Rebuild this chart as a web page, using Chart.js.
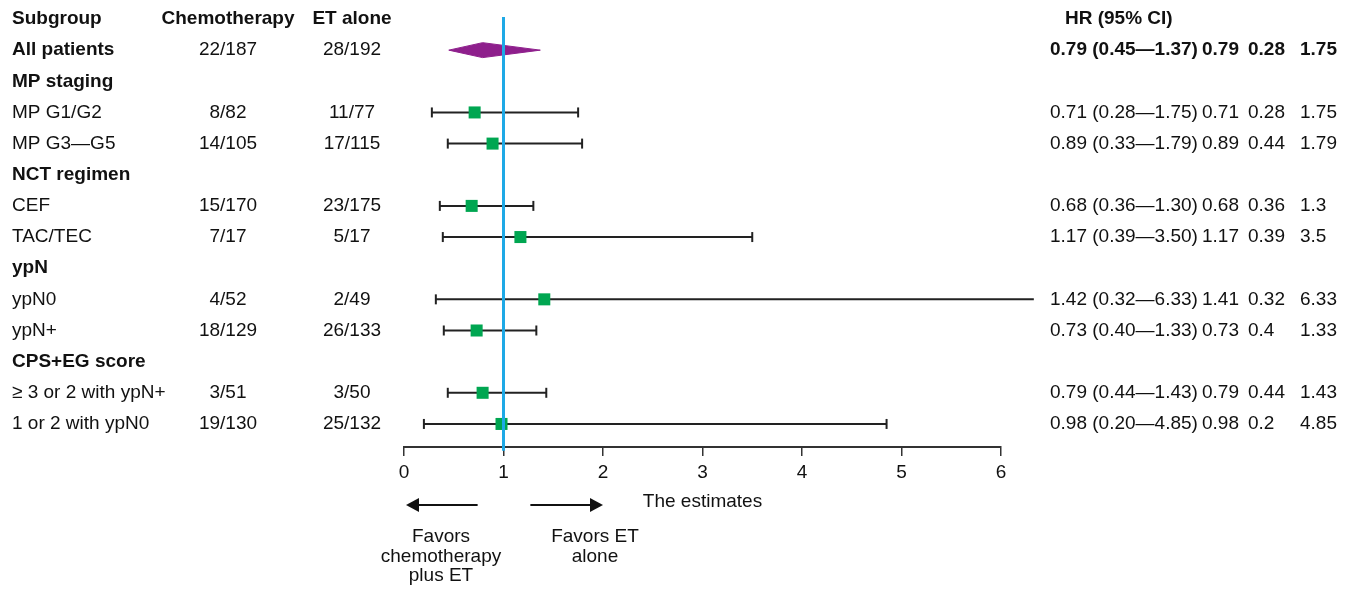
<!DOCTYPE html>
<html>
<head>
<meta charset="utf-8">
<script src="https://cdn.jsdelivr.net/npm/chart.js@4.4.1/dist/chart.umd.min.js"></script>
<style>
  html, body { margin: 0; padding: 0; background: #fff; }
  #wrap { width: 1353px; height: 590px; position: relative; }
</style>
</head>
<body>
<div id="wrap"><canvas id="forest"></canvas></div>
<script>
// Table + plot data
const subgroups = ['All patients', 'MP staging', 'MP G1/G2', 'MP G3\u2014G5', 'NCT regimen', 'CEF', 'TAC/TEC',
    'ypN', 'ypN0', 'ypN+', 'CPS+EG score', '\u2265 3 or 2 with ypN+', '1 or 2 with ypN0'];
const chemoEvents = ['22/187', '', '8/82', '14/105', '', '15/170', '7/17', '', '4/52', '18/129', '', '3/51', '19/130'];
const etEvents = ['28/192', '', '11/77', '17/115', '', '23/175', '5/17', '', '2/49', '26/133', '', '3/50', '25/132'];
const hrText = ['0.79 (0.45\u20141.37)', '', '0.71 (0.28\u20141.75)', '0.89 (0.33\u20141.79)', '', '0.68 (0.36\u20141.30)',
    '1.17 (0.39\u20143.50)', '', '1.42 (0.32\u20146.33)', '0.73 (0.40\u20141.33)', '', '0.79 (0.44\u20141.43)', '0.98 (0.20\u20144.85)'];
const estimate = [0.79, null, 0.71, 0.89, null, 0.68, 1.17, null, 1.41, 0.73, null, 0.79, 0.98];
const lower = [0.28, null, 0.28, 0.44, null, 0.36, 0.39, null, 0.32, 0.4, null, 0.44, 0.2];
const upper = [1.75, null, 1.75, 1.79, null, 1.3, 3.5, null, 6.33, 1.33, null, 1.43, 4.85];
// overall effect (diamond)
const pooled = [0.45, 0.79, 1.37];
const xTicks = [0, 1, 2, 3, 4, 5, 6];
const refValue = 1;

const FONT = '"Liberation Sans", Arial, Helvetica, sans-serif';
const SIZE = 19;
const INK = '#111';
const Y_MIN = -0.064, Y_MAX = 13.74;

// one dataset per confidence interval
const ciSets = [];
estimate.forEach((e, i) => {
    if (e === null || i === 0) return;
    ciSets.push({
        data: [{ x: lower[i], y: i + 1 }, { x: upper[i], y: i + 1 }],
        showLine: true,
        borderColor: '#222',
        borderWidth: 2,
        pointStyle: 'line',
        rotation: 90,
        pointRadius: 5,
        pointBorderWidth: 2,
        pointBorderColor: '#222',
        clip: false,
        order: 3
    });
});

const squares = {
    data: estimate.map((e, i) => (e === null || i === 0) ? null : { x: e, y: i + 1 }).filter(p => p),
    pointStyle: 'rect',
    pointRadius: 8.5,
    backgroundColor: '#00a651',
    borderWidth: 0,
    clip: false,
    order: 2
};

const half = 0.24;
const diamond = {
    data: [
        { x: pooled[0], y: 1 }, { x: pooled[1], y: 1 - half },
        { x: pooled[2], y: 1 }, { x: pooled[1], y: 1 + half }, { x: pooled[0], y: 1 }
    ],
    showLine: true,
    fill: 'shape',
    backgroundColor: '#8e1f8c',
    borderColor: '#8e1f8c',
    borderWidth: 1,
    pointRadius: 0,
    tension: 0,
    order: 2
};

const refLine = {
    data: [{ x: refValue, y: Y_MIN }, { x: refValue, y: Y_MAX + 0.12 }],
    showLine: true,
    borderColor: '#1ea9e6',
    borderWidth: 3,
    pointRadius: 0,
    clip: false,
    order: 0
};

// text columns, arrows and captions drawn on the same scales
const tablePlugin = {
    id: 'forestTable',
    afterDraw(chart) {
        const ctx = chart.ctx;
        const ys = chart.scales.y, xs = chart.scales.x;
        const regular = SIZE + 'px ' + FONT, bold = 'bold ' + SIZE + 'px ' + FONT;
        ctx.save();
        ctx.fillStyle = INK;
        ctx.textBaseline = 'middle';

        const hy = ys.getPixelForValue(0);
        ctx.font = bold;
        ctx.textAlign = 'left';
        ctx.fillText('Subgroup', 12, hy);
        ctx.fillText('HR (95% CI)', 1065, hy);
        ctx.textAlign = 'center';
        ctx.fillText('Chemotherapy', 228, hy);
        ctx.fillText('ET alone', 352, hy);

        subgroups.forEach((s, i) => {
            const y = ys.getPixelForValue(i + 1);
            const heading = chemoEvents[i] === '' || i === 0;
            ctx.font = heading ? bold : regular;
            ctx.textAlign = 'left';
            ctx.fillText(s, 12, y);
            ctx.font = regular;
            ctx.textAlign = 'center';
            ctx.fillText(chemoEvents[i], 228, y);
            ctx.fillText(etEvents[i], 352, y);
            if (estimate[i] !== null) {
                ctx.font = i === 0 ? bold : regular;
                ctx.textAlign = 'left';
                ctx.fillText(hrText[i], 1050, y);
                ctx.fillText(String(estimate[i]), 1202, y);
                ctx.fillText(String(lower[i]), 1248, y);
                ctx.fillText(String(upper[i]), 1300, y);
            }
        });

        // direction arrows
        const ay = 505;
        const arrow = (from, to) => {
            const x0 = xs.getPixelForValue(from), x1 = xs.getPixelForValue(to);
            const dir = Math.sign(x1 - x0);
            ctx.strokeStyle = INK;
            ctx.lineWidth = 2;
            ctx.beginPath();
            ctx.moveTo(x0, ay);
            ctx.lineTo(x1 - dir * 10, ay);
            ctx.stroke();
            ctx.beginPath();
            ctx.moveTo(x1, ay);
            ctx.lineTo(x1 - dir * 13, ay - 7);
            ctx.lineTo(x1 - dir * 13, ay + 7);
            ctx.closePath();
            ctx.fill();
        };
        arrow(0.74, 0.02);
        arrow(1.27, 2.0);

        ctx.font = regular;
        ctx.textAlign = 'center';
        ['Favors', 'chemotherapy', 'plus ET'].forEach((t, k) => ctx.fillText(t, 441, 537 + k * 19.5));
        ['Favors ET', 'alone'].forEach((t, k) => ctx.fillText(t, 595, 537 + k * 19.5));
        ctx.restore();
    }
};

new Chart(document.getElementById('forest'), {
    type: 'scatter',
    data: { datasets: [refLine, diamond, squares, ...ciSets] },
    plugins: [tablePlugin],
    options: {
        responsive: true,
        maintainAspectRatio: false,
        animation: false,
        events: [],
        layout: { padding: { left: 404, right: 352, top: 17, bottom: 75 } },
        plugins: { legend: { display: false }, tooltip: { enabled: false } },
        scales: {
            x: {
                type: 'linear',
                min: xTicks[0],
                max: xTicks[xTicks.length - 1],
                afterBuildTicks: (scale) => { scale.ticks = xTicks.map(v => ({ value: v })); },
                ticks: { color: INK, font: { family: FONT, size: SIZE, lineHeight: 1 }, padding: 7 },
                grid: { drawOnChartArea: false, drawTicks: true, tickLength: 9, color: '#333', lineWidth: 1.5 },
                border: { display: true, color: '#333', width: 2 },
                title: { display: true, text: 'The estimates', color: INK, font: { family: FONT, size: SIZE, lineHeight: 1 }, padding: { top: 3, bottom: 4 } }
            },
            y: {
                type: 'linear',
                reverse: true,
                min: Y_MIN,
                max: Y_MAX,
                display: false
            }
        }
    }
});
</script>
</body>
</html>
